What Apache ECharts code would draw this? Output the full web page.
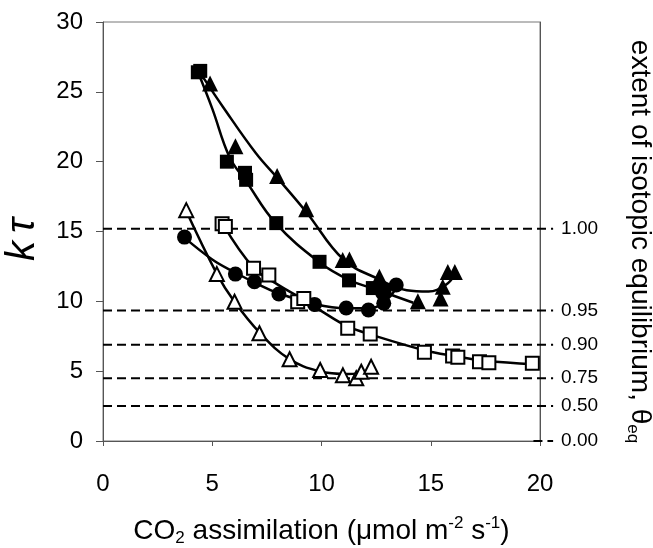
<!DOCTYPE html>
<html>
<head>
<meta charset="utf-8">
<script src="https://cdn.jsdelivr.net/npm/echarts@6/dist/echarts.min.js"></script>
<style>
  html, body { margin: 0; padding: 0; background: #fff; }
  #chart { width: 653px; height: 548px; }
</style>
</head>
<body>
<div id="chart"></div>
<script>
// measured points, [CO2 assimilation, k tau]
const filledSquares = [
  [4.34, 26.4], [4.45, 26.5], [5.67, 20.0], [6.5, 19.2], [6.55, 18.7],
  [7.93, 15.6], [9.91, 12.83], [11.26, 11.5], [12.35, 10.95], [12.88, 10.8],
];
const filledTriangles = [
  [4.9, 25.6], [6.06, 21.1], [7.97, 18.97], [9.3, 16.6], [10.97, 12.96],
  [11.28, 13.0], [12.65, 11.76], [14.41, 10.0], [15.45, 10.2], [15.55, 11.05],
  [15.78, 12.1], [16.1, 12.1],
];
const filledCircles = [
  [3.73, 14.6], [6.06, 11.95], [6.93, 11.4], [8.05, 10.52], [9.68, 9.78],
  [11.13, 9.52], [12.15, 9.38], [12.85, 9.86], [12.8, 10.6], [13.42, 11.17],
];
const openSquares = [
  [5.45, 15.55], [5.6, 15.35], [6.89, 12.36], [7.59, 11.88], [8.91, 9.97],
  [9.19, 10.21], [11.2, 8.07], [12.23, 7.66], [14.71, 6.35], [16.0, 6.08],
  [16.24, 5.99], [17.23, 5.68], [17.66, 5.6], [19.65, 5.56],
];
const openTriangles = [
  [3.81, 16.53], [5.21, 11.95], [6.02, 9.97], [7.16, 7.71], [8.54, 5.85],
  [9.94, 5.08], [10.98, 4.7], [11.59, 4.49], [11.82, 4.96], [12.27, 5.32],
];

// fitted curves
const fitFilledSquares = [
  [4.35, 26.4], [5.0, 23.8], [5.8, 20.3], [6.55, 18.6], [7.9, 15.6],
  [9.9, 12.8], [11.3, 11.5], [12.4, 10.9], [14.2, 9.9],
];
const fitFilledTriangles = [
  [4.6, 26.0], [5.5, 23.9], [7.0, 20.6], [8.0, 18.8], [9.3, 16.4],
  [11.0, 13.0], [12.6, 11.6], [13.9, 10.8], [14.9, 10.7], [15.7, 11.2], [16.1, 11.9],
];
const fitFilledCircles = [
  [3.7, 14.6], [5.0, 13.0], [6.0, 12.1], [7.0, 11.3], [8.0, 10.6],
  [9.7, 9.8], [11.1, 9.5], [12.2, 9.5], [12.9, 10.0], [13.4, 10.9],
];
const fitOpenSquares = [
  [5.5, 15.5], [6.9, 12.4], [8.0, 11.2], [9.1, 10.2], [10.0, 9.3],
  [11.2, 8.2], [12.3, 7.6], [14.7, 6.5], [16.0, 6.1], [17.5, 5.75], [19.7, 5.5],
];
const fitOpenTriangles = [
  [3.8, 16.5], [5.2, 12.0], [6.0, 10.0], [7.2, 7.7], [8.5, 5.9],
  [9.9, 5.0], [11.2, 4.8], [12.3, 4.95],
];

// extent of isotopic equilibrium reference lines
const thetaLabels = ['1.00', '0.95', '0.90', '0.75', '0.50', '0.00'];
const thetaKtau = [15.2, 9.35, 6.9, 4.5, 2.5, 0];

const xTicks = { min: 0, max: 20, interval: 5 };
const yTicks = { min: 0, max: 30, interval: 5 };
// the dashed lines run a bit past the right axis
const thetaLineEnd = 20.6;

const font = '"Liberation Sans", Arial, sans-serif';

const markerSeries = (data, symbol, size, open) => ({
  type: 'scatter',
  data,
  symbol,
  symbolSize: size,
  z: 5,
  itemStyle: open
    ? { color: '#fff', borderColor: '#000', borderWidth: 2, opacity: 1 }
    : { color: '#000', opacity: 1 },
});

const fitSeries = (data) => ({
  type: 'line',
  data,
  smooth: 0.4,
  showSymbol: false,
  z: 3,
  lineStyle: { color: '#000', width: 2.5 },
});

// theta lines live on a second, slightly wider grid so they can poke out
const thetaSeries = thetaKtau.map((v, i) => ({
  type: 'line',
  xAxisIndex: 1,
  yAxisIndex: 2,
  data: [[v === 0 ? 19.7 : 0, v], [thetaLineEnd, v]],
  showSymbol: false,
  clip: false,
  silent: true,
  z: 2,
  lineStyle: { color: '#000', width: 2, type: [9, 5] },
  endLabel: {
    show: true,
    distance: 8,
    formatter: thetaLabels[i],
    fontSize: 19,
    color: '#000',
    fontFamily: font,
  },
}));

const plotWidth = 653 - 103 - 113;
const thetaRight = 653 - 103 - plotWidth * thetaLineEnd / xTicks.max;

const chart = echarts.init(document.getElementById('chart'));

chart.setOption({
  animation: false,
  backgroundColor: '#fff',
  grid: [
    {
      left: 103,
      right: 113,
      top: 22,
      bottom: 107,
      outerBoundsMode: 'none',
      containLabel: false,
      show: true,
      borderColor: '#777',
      borderWidth: 1,
    },
    {
      left: 103,
      right: thetaRight,
      top: 22,
      bottom: 107,
      outerBoundsMode: 'none',
      containLabel: false,
    },
  ],
  xAxis: [
    {
      type: 'value',
      min: xTicks.min,
      max: xTicks.max,
      interval: xTicks.interval,
      splitLine: { show: false },
      axisLine: { onZero: false, lineStyle: { color: '#555', width: 1 } },
      axisTick: { length: 5, lineStyle: { color: '#555' } },
      axisLabel: { margin: 31, fontSize: 24, color: '#000', fontFamily: font },
      name: 'CO{sub|2} assimilation (μmol m{sup|-2} s{sup|-1})',
      nameLocation: 'middle',
      nameGap: 74,
      nameTextStyle: {
        fontSize: 28,
        color: '#000',
        fontFamily: font,
        lineHeight: 32,
        rich: {
          sub: { fontSize: 17, verticalAlign: 'bottom', lineHeight: 16, fontFamily: font },
          sup: { fontSize: 17, verticalAlign: 'top', lineHeight: 16, fontFamily: font },
        },
      },
    },
    {
      type: 'value',
      gridIndex: 1,
      min: 0,
      max: thetaLineEnd,
      show: false,
    },
  ],
  yAxis: [
    {
      type: 'value',
      min: yTicks.min,
      max: yTicks.max,
      interval: yTicks.interval,
      splitLine: { show: false },
      axisLine: { show: true, lineStyle: { color: '#555', width: 1 } },
      axisTick: { length: 7, lineStyle: { color: '#555' } },
      axisLabel: { margin: 20, fontSize: 24, color: '#000', fontFamily: font },
      name: 'k\u2009τ',
      nameLocation: 'middle',
      nameGap: 60,
      nameTextStyle: {
        fontSize: 40,
        fontStyle: 'italic',
        color: '#000',
        fontFamily: font,
        padding: [0, 16, 0, 0],
      },
    },
    {
      type: 'value',
      position: 'right',
      min: yTicks.min,
      max: yTicks.max,
      interval: yTicks.interval,
      splitLine: { show: false },
      axisLine: { show: true, lineStyle: { color: '#555', width: 1 } },
      axisTick: { show: false },
      axisLabel: { show: false },
      name: 'extent of isotopic equilibrium, θ{sub|eq}',
      nameLocation: 'middle',
      nameRotate: -90,
      nameGap: 84,
      nameTextStyle: {
        fontSize: 28,
        color: '#000',
        fontFamily: font,
        lineHeight: 32,
        padding: [0, 0, 0, 20],
        rich: {
          sub: { fontSize: 17, verticalAlign: 'bottom', lineHeight: 16, fontFamily: font },
        },
      },
    },
    {
      type: 'value',
      gridIndex: 1,
      min: yTicks.min,
      max: yTicks.max,
      show: false,
    },
  ],
  series: [
    ...thetaSeries,
    fitSeries(fitFilledSquares),
    fitSeries(fitFilledTriangles),
    fitSeries(fitFilledCircles),
    fitSeries(fitOpenSquares),
    fitSeries(fitOpenTriangles),
    markerSeries(filledSquares, 'rect', 14, false),
    markerSeries(filledTriangles, 'triangle', 16, false),
    markerSeries(filledCircles, 'circle', 15, false),
    markerSeries(openSquares, 'rect', 13, true),
    markerSeries(openTriangles, 'triangle', 14, true),
  ],
});
</script>
</body>
</html>
